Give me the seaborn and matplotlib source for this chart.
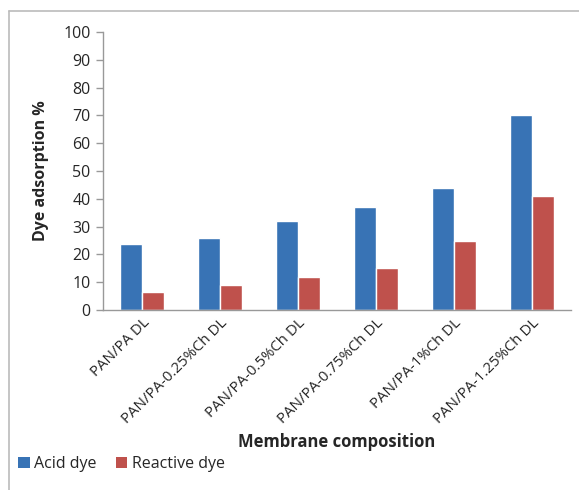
import numpy as np
import pandas as pd
import matplotlib
matplotlib.use("Agg")
import matplotlib.pyplot as plt
import seaborn as sns
from matplotlib.lines import Line2D
from matplotlib.patches import Patch

categories = ["PAN/PA DL", "PAN/PA-0.25%Ch DL", "PAN/PA-0.5%Ch DL",
              "PAN/PA-0.75%Ch DL", "PAN/PA-1%Ch DL", "PAN/PA-1.25%Ch DL"]
acid_dye = [23.8, 26.0, 32.0, 37.0, 44.0, 70.3]
reactive_dye = [6.5, 9.0, 12.0, 15.0, 25.0, 41.0]
series = ["Acid dye", "Reactive dye"]
colors = ["#3873B5", "#BF514C"]

df = pd.DataFrame({
    "composition": categories * 2,
    "value": acid_dye + reactive_dye,
    "dye": [series[0]] * len(categories) + [series[1]] * len(categories),
})

sns.set_style("white")
plt.rcParams["font.family"] = ["Open Sans", "DejaVu Sans"]

W, H = 579, 490
fig = plt.figure(figsize=(W / 100, H / 100), dpi=100)
ax = fig.add_axes([103 / W, 1 - 310 / H, (571 - 103) / W, (310 - 32) / H])

sns.barplot(data=df, x="composition", y="value", hue="dye", palette=colors,
            width=0.57, saturation=1, ax=ax, legend=False)

ax.set_ylim(0, 100)
ax.set_yticks(range(0, 101, 10))
ax.set_xlim(-0.5, len(categories) - 0.5)
ax.tick_params(axis="y", labelsize=11.5, length=5, width=1, color="#999999",
               left=True, pad=4)
ax.tick_params(axis="x", labelsize=10.8, length=0, pad=4)
plt.setp(ax.get_xticklabels(), rotation=45, ha="right", rotation_mode="anchor")

for s in ["top", "right"]:
    ax.spines[s].set_visible(False)
for s in ["left", "bottom"]:
    ax.spines[s].set_color("#999999")
    ax.spines[s].set_linewidth(1)

ax.set_ylabel("Dye adsorption %", fontsize=11.5, fontweight="bold", labelpad=10)
ax.set_xlabel("")
fig.text(337 / W, 1 - 442 / H, "Membrane composition", fontsize=12,
         fontweight="bold", ha="center", va="center")

handles = [Patch(facecolor=c, edgecolor="none") for c in colors]
fig.legend(handles, series, loc="center left", bbox_to_anchor=(12 / W, 1 - 464 / H),
           ncol=2, frameon=False, fontsize=11.5, handlelength=0.7, handleheight=0.7,
           handletextpad=0.3, columnspacing=1.2, borderaxespad=0)

# outer chart-area border (partially cropped in the original)
fig.add_artist(Line2D([9 / W, 1], [1 - 11 / H, 1 - 11 / H], color="#BBBBBB", lw=1.2,
                      transform=fig.transFigure))
fig.add_artist(Line2D([9 / W, 9 / W], [0, 1 - 11 / H], color="#BBBBBB", lw=1.2,
                      transform=fig.transFigure))

fig.savefig("out.png", dpi=100)
